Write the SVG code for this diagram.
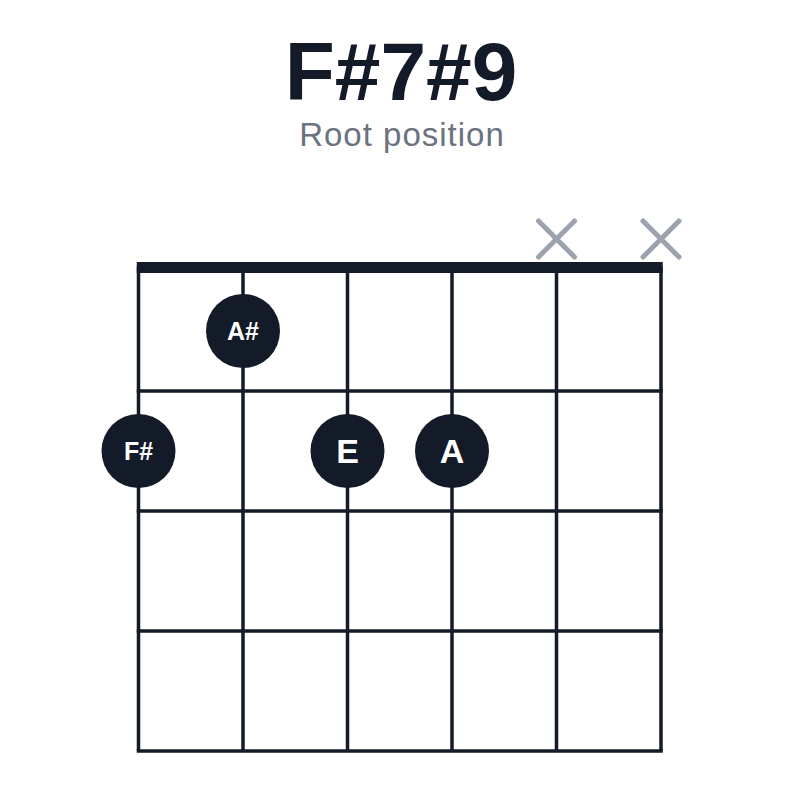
<svg xmlns="http://www.w3.org/2000/svg" width="800" height="800" viewBox="0 0 800 800">
<style>
.title{font-family:"Liberation Sans",Arial,sans-serif;font-weight:bold;font-size:82px;fill:#131a28;text-anchor:middle}
.sub{font-family:"Liberation Sans",Arial,sans-serif;font-size:33px;fill:#6b7280;text-anchor:middle;letter-spacing:1px}
.str{stroke:#131a28;stroke-width:3.5;fill:none}
.mute{stroke:#9ca3af;stroke-width:5;stroke-linecap:round;fill:none}
.dot{fill:#131a28}
.lbl{font-family:"Liberation Sans",Arial,sans-serif;fill:#ffffff;text-anchor:middle;font-weight:bold}
.sm{font-size:25px}
.lg{font-size:34px}
</style>
<rect width="800" height="800" fill="#ffffff"/>
<text class="title" x="401" y="100">F#7#9</text>
<text class="sub" x="402" y="146">Root position</text>
<g id="grid">
<g id="strings">
<line class="str" x1="138.5" y1="267" x2="138.5" y2="751"/>
<line class="str" x1="243" y1="267" x2="243" y2="751"/>
<line class="str" x1="347.5" y1="267" x2="347.5" y2="751"/>
<line class="str" x1="452" y1="267" x2="452" y2="751"/>
<line class="str" x1="556.5" y1="267" x2="556.5" y2="751"/>
<line class="str" x1="661" y1="267" x2="661" y2="751"/>
</g>
<g id="frets">
<line class="str" x1="136.75" y1="391" x2="662.75" y2="391"/>
<line class="str" x1="136.75" y1="511" x2="662.75" y2="511"/>
<line class="str" x1="136.75" y1="631" x2="662.75" y2="631"/>
<line class="str" x1="136.75" y1="751" x2="662.75" y2="751"/>
</g>
<rect id="nut" x="136.75" y="262" width="526" height="11" fill="#131a28"/>
</g>
<g id="mutes">
<path class="mute" d="M538.5 221 L574.5 257 M574.5 221 L538.5 257"/>
<path class="mute" d="M643 221 L679 257 M679 221 L643 257"/>
</g>
<g id="note-As">
<circle class="dot" cx="243" cy="331" r="37"/>
<text class="lbl sm" x="243" y="340">A#</text>
</g>
<g id="note-Fs">
<circle class="dot" cx="138.5" cy="451" r="37"/>
<text class="lbl sm" x="138.5" y="460">F#</text>
</g>
<g id="note-E">
<circle class="dot" cx="347.5" cy="451" r="37"/>
<text class="lbl lg" x="347.5" y="463">E</text>
</g>
<g id="note-A">
<circle class="dot" cx="452" cy="451" r="37"/>
<text class="lbl lg" x="452" y="463">A</text>
</g>
</svg>
